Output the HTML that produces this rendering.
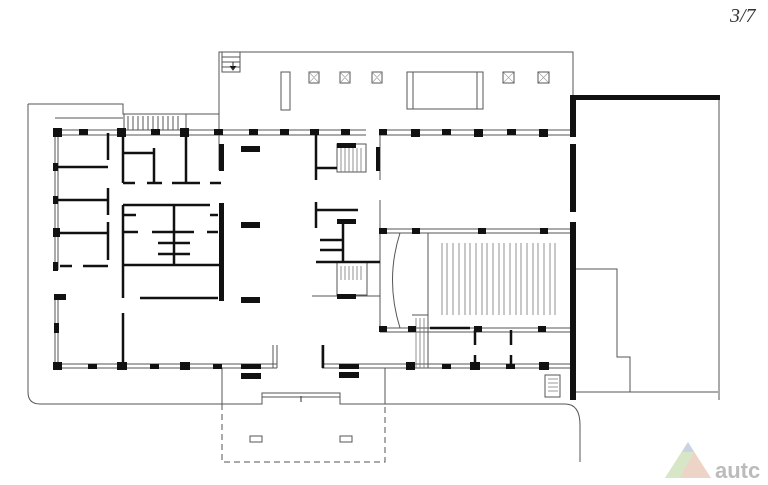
<!DOCTYPE html>
<html><head><meta charset="utf-8"><style>
html,body{margin:0;padding:0;background:#fff;width:768px;height:485px;overflow:hidden}
svg{display:block}
</style></head><body>
<svg width="768" height="485" viewBox="0 0 768 485" xmlns="http://www.w3.org/2000/svg">
<g fill="none" stroke="#555" stroke-width="1">
<path d="M219 130V52H573V130"/>
<path d="M222 52V72H240V52M222 57H240M222 62H240M222 67H240"/>
<rect x="281" y="72" width="9" height="38"/>
<rect x="309" y="72" width="10" height="11"/><rect x="340" y="72" width="10" height="11"/><rect x="372" y="72" width="10" height="11"/>
<path d="M309 72L319 83M319 72L309 83M340 72L350 83M350 72L340 83M372 72L382 83M382 72L372 83M503 72L514 83M514 72L503 83M538 72L549 83M549 72L538 83" stroke="#999" stroke-width="0.6"/>
<rect x="407" y="72" width="76" height="37"/><rect x="407" y="72" width="6" height="37"/><rect x="477" y="72" width="6" height="37"/>
<rect x="503" y="72" width="11" height="11"/><rect x="538" y="72" width="11" height="11"/>
<path d="M28 104H123V114H219"/>
<path d="M55 118H123"/>
<path d="M28 104V392Q28 404 40 404H262V393H340V404H565Q580 404 580 425V462"/>
<path d="M124 114V130H186V114"/>
<path d="M128 116V130M133 116V130M138 116V130M143 116V130M148 116V130M153 116V130M158 116V130M163 116V130M168 116V130M173 116V130M178 116V130"/>
<path d="M262 393H340M262 397H340"/>
<path d="M222 368V404M385 368V404"/>
<path d="M222 404V462H385V404" stroke-dasharray="6 4"/>
<rect x="250" y="436" width="12" height="6"/><rect x="340" y="436" width="12" height="6"/>
<path d="M55 130H366M379 130H573"/><path d="M55 135H366M379 135H573"/>
<path d="M55 368H277M322 368H570"/><path d="M55 364H277M322 364H570"/>
<path d="M55 130V270M58 135V270M55 297V368M58 297V368"/>
<path d="M219 130V170M380 130V180M380 200V330"/>
<path d="M380 229H570M380 233H570M380 328H570M380 332H570"/>
<path d="M428 233V328"/>
<path d="M400 233Q385 280 400 328"/>
<path d="M575 269H617V357H630V392M575 392H718M719 96V400"/>
<path d="M273 345V368M322 345V368M277 345V368"/>
<path d="M337 144H366V172H337Z"/>
<path d="M337 262H367V295H337Z"/>
<path d="M312 296H380"/>
<path d="M412 315H428V368H412"/>
<path d="M545 375H560V397H545Z"/>
</g>
<g stroke="#777" stroke-width="0.8">
<path d="M341 148V172M345 148V172M349 148V172M353 148V172M357 148V172M361 148V172"/>
<path d="M341 266V280M345 266V280M349 266V280M353 266V280M357 266V280M361 266V280"/>
<path d="M416 318V368M420 318V368M424 318V368"/>
<path d="M548 379H558M548 383H558M548 387H558M548 391H558"/>
<path d="M442 243V315M447 243V315M453 243V315M459 243V315M465 243V315M470 243V315M476 243V315M482 243V315M487 243V315M493 243V315M499 243V315M504 243V315M510 243V315M516 243V315M521 243V315M527 243V315M533 243V315M538 243V315M544 243V315M550 243V315M555 243V315"/>
</g>
<g stroke="#111" stroke-width="2.5" fill="none">
<path d="M108 133V160M108 188V215M108 222V260"/>
<path d="M58 167H108M58 200H108M58 233H108M60 266H72M83 266H108"/>
<path d="M123 133V183M123 183H135M147 183H162M172 183H200M210 183H221M154 148V183M186 133V183M123 153H154"/>
<path d="M123 205V298M123 205H138M138 205H210M174 205V265M123 265H221M123 232H138M152 232H194M207 232H218M158 243H190M158 254H190M123 215H136M210 215H218"/>
<path d="M140 298H218M123 313V368"/>
<path d="M316 133V180M316 168H337M316 202V228M316 210H358M343 221V262M316 262H380M320 240H343M320 250H343"/>
<path d="M323 345V368M430 328H470M475 330V345M475 355V368M511 330V345M511 355V368"/>
</g>
<g fill="#111">
<rect x="53" y="128" width="9" height="9"/><rect x="79" y="129" width="9" height="6"/><rect x="117" y="128" width="9" height="9"/><rect x="151" y="129" width="9" height="6"/><rect x="180" y="128" width="9" height="9"/><rect x="214" y="129" width="9" height="6"/><rect x="249" y="129" width="9" height="6"/><rect x="280" y="129" width="9" height="6"/><rect x="310" y="129" width="9" height="6"/><rect x="341" y="129" width="9" height="6"/><rect x="379" y="129" width="8" height="6"/><rect x="411" y="129" width="9" height="8"/><rect x="442" y="129" width="9" height="6"/><rect x="474" y="129" width="9" height="8"/><rect x="507" y="129" width="9" height="6"/><rect x="539" y="129" width="9" height="8"/>
<rect x="53" y="163" width="5" height="8"/><rect x="53" y="196" width="5" height="8"/><rect x="53" y="228" width="7" height="9"/><rect x="53" y="262" width="5" height="9"/>
<rect x="54" y="294" width="12" height="6"/><rect x="54" y="323" width="5" height="10"/>
<rect x="53" y="362" width="9" height="8"/><rect x="88" y="364" width="9" height="5"/><rect x="117" y="362" width="10" height="8"/><rect x="150" y="364" width="9" height="5"/><rect x="180" y="362" width="10" height="8"/><rect x="213" y="364" width="9" height="5"/><rect x="241" y="364" width="20" height="5"/><rect x="241" y="373" width="20" height="6"/>
<rect x="339" y="364" width="20" height="5"/><rect x="339" y="372" width="20" height="6"/><rect x="406" y="362" width="9" height="8"/><rect x="442" y="364" width="9" height="5"/><rect x="470" y="362" width="10" height="8"/><rect x="506" y="364" width="9" height="5"/><rect x="539" y="362" width="10" height="8"/>
<rect x="219" y="144" width="5" height="27"/><rect x="219" y="203" width="5" height="98"/>
<rect x="241" y="146" width="19" height="6"/><rect x="241" y="222" width="19" height="6"/><rect x="241" y="297" width="19" height="6"/>
<rect x="337" y="143" width="19" height="5"/><rect x="376" y="147" width="4" height="24"/>
<rect x="337" y="219" width="19" height="5"/><rect x="337" y="294" width="19" height="5"/>
<rect x="379" y="228" width="8" height="6"/><rect x="412" y="228" width="8" height="6"/><rect x="478" y="228" width="8" height="6"/><rect x="540" y="228" width="8" height="6"/>
<rect x="379" y="326" width="8" height="6"/><rect x="408" y="326" width="8" height="6"/><rect x="474" y="326" width="8" height="6"/><rect x="538" y="326" width="8" height="6"/>
<rect x="570" y="95" width="150" height="5"/><rect x="570" y="95" width="6" height="42"/><rect x="570" y="144" width="6" height="68"/><rect x="570" y="222" width="6" height="178"/><rect x="570" y="382" width="6" height="17"/>
</g>
<g stroke="#333" stroke-width="1">
<path d="M233 62V70M230 66L233 70L236 66"/>
<path d="M301 396V402"/>
</g>
<text x="730" y="22" font-family="Liberation Serif, serif" font-size="20" font-style="italic" fill="#333">3/7</text>
<polygon points="688,442 665,478 711,478" fill="#e8c9b9" opacity="0.8"/>
<polygon points="688,442 665,478 680,478 694,452" fill="#d7e6c6"/>
<polygon points="688,442 682,452 694,452" fill="#c9d3e3"/>
<text x="715" y="478" font-family="Liberation Sans, sans-serif" font-weight="bold" font-size="22" fill="#bbb">autc</text>
</svg>
</body></html>
